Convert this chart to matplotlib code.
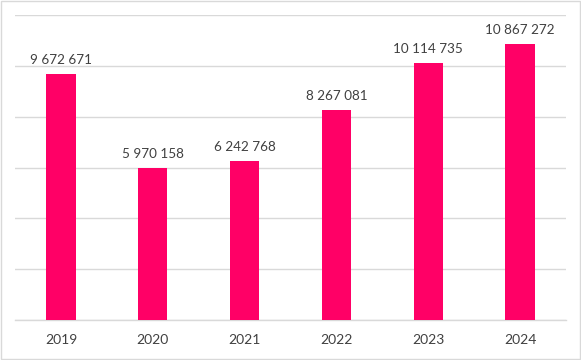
import matplotlib.pyplot as plt
from matplotlib.patches import Rectangle

years = ["2019", "2020", "2021", "2022", "2023", "2024"]
values = [9672671, 5970158, 6242768, 8267081, 10114735, 10867272]

plt.rcParams['font.family'] = ['Lato', 'DejaVu Sans']

fig = plt.figure(figsize=(5.81, 3.60), dpi=100)
ax = fig.add_axes([0.026, 0.111, 0.948, 0.847])

x = range(len(years))
bars = ax.bar(x, values, width=0.32, color="#FF0066", zorder=3)

ax.set_xlim(-0.5, len(years) - 0.5)
ax.set_ylim(0, 12000000)
ax.set_yticks(range(0, 12000001, 2000000))
ax.yaxis.grid(True, color="#D9D9D9", linewidth=1, zorder=0)
ax.set_yticklabels([])
ax.tick_params(axis="y", length=0)

ax.set_xticks(list(x))
ax.set_xticklabels(years, fontsize=10, color="#404040")
ax.tick_params(axis="x", length=0, pad=10)

for s in ["top", "left", "right"]:
    ax.spines[s].set_visible(False)
ax.spines["bottom"].set_color("#D9D9D9")
ax.spines["bottom"].set_linewidth(1)

for b, v in zip(bars, values):
    label = f"{v:,}".replace(",", " ")
    ax.annotate(label, (b.get_x() + b.get_width() / 2, v),
                xytext=(0, 6), textcoords="offset points",
                ha="center", va="bottom", fontsize=9.7, color="#404040")

fig.patches.append(Rectangle((0.002, 0.003), 0.996, 0.994, transform=fig.transFigure,
                             fill=False, edgecolor="#D9D9D9", linewidth=1))

fig.savefig("out.png", dpi=100)
